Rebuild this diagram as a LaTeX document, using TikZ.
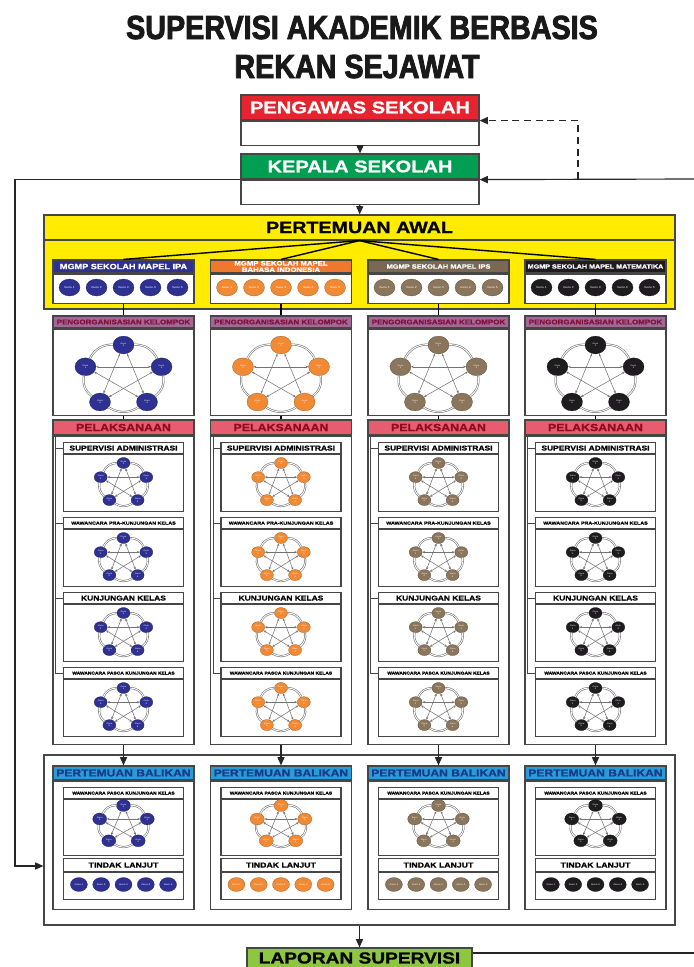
\documentclass[tikz,border=0pt]{standalone}
\usepackage{fontspec}
\setmainfont{Liberation Sans}[FakeStretch=1.2, BoldFeatures={FakeBold=1}]
\newfontfamily\titlefont{Liberation Sans}[FakeStretch=0.86, BoldFeatures={FakeBold=2.5}]
\usepackage{tikz}
\usetikzlibrary{calc,arrows.meta,shapes.geometric,positioning}

\definecolor{ipa}{RGB}{46,49,146}
\definecolor{bind}{RGB}{242,138,52}
\definecolor{bindh}{RGB}{240,120,45}
\definecolor{ips}{RGB}{139,118,92}
\definecolor{ipsh}{RGB}{122,104,84}
\definecolor{mat}{RGB}{30,28,30}
\definecolor{pengawas}{RGB}{228,36,46}
\definecolor{kepala}{RGB}{0,158,82}
\definecolor{kuning}{RGB}{255,236,0}
\definecolor{ungu}{RGB}{163,104,152}
\definecolor{unguteks}{RGB}{125,18,58}
\definecolor{merah}{RGB}{232,92,112}
\definecolor{merahteks}{RGB}{140,12,32}
\definecolor{biru}{RGB}{40,156,214}
\definecolor{biruteks}{RGB}{28,56,140}
\definecolor{laporan}{RGB}{141,198,63}
\definecolor{garis}{RGB}{70,70,70}

\newcommand{\px}{0.03cm}
\newcommand{\tebal}[1]{\bfseries\fontsize{#1}{#1}\selectfont}

\tikzset{
  kotak/.style={draw=garis, line width=1pt, inner sep=0pt, fill=white},
  judul/.style={kotak, align=center},
  guru/.style={ellipse, fill=#1, draw=#1!60!black, line width=0.2pt, inner sep=0pt,
    text=white, align=center, font=\fontsize{1.8}{2}\selectfont},
  ringline/.style={draw=gray!80!black, double=white, double distance=0.8pt, line width=0.45pt},
  starline/.style={draw=gray!90!black, line width=0.45pt,
    {Stealth[length=2.4pt,width=2pt]}-{Stealth[length=2.4pt,width=2pt]}},
  panah/.style={-{Triangle[length=7pt,width=6pt]}, line width=1pt, draw=black!85},
}

% lima guru dalam segi lima
\newcommand{\gurupenta}[6]{%
  \foreach \gi/\sudut in {1/198,2/270,3/342,4/54,5/126}
    \node[guru=#5, minimum width=#6*\px, minimum height=0.85*#6*\px] (#1\gi)
      at ($(#2)+(\sudut:#3 and #4)$) {Guru\\\gi};
  \foreach \dari/\ke in {1/2,2/3,3/4,4/5,5/1}
    \draw[ringline] (#1\dari) to[bend left=32] (#1\ke);
  \foreach \dari/\ke in {1/3,1/4,2/4,2/5,3/5}
    \draw[starline] (#1\dari) -- (#1\ke);
}

\begin{document}
\begin{tikzpicture}[x=0.03cm, y=-0.03cm]
\useasboundingbox (0,0) rectangle (694,967);

% judul
\node[anchor=base, font=\titlefont\bfseries\fontsize{28.5}{30}\selectfont, text=black!90] (judul1) at (362,39) {SUPERVISI AKADEMIK BERBASIS};
\node[anchor=base, font=\titlefont\bfseries\fontsize{28.5}{30}\selectfont, text=black!90] (judul2) at (357,78) {REKAN SEJAWAT};

% pengawas dan kepala sekolah
\node[judul, fill=pengawas, text=white, minimum width=238*\px, minimum height=25*\px, font=\tebal{14.3}] (pgh) at (360,107.5) {PENGAWAS SEKOLAH};
\node[kotak, minimum width=238*\px, minimum height=24*\px, below=0pt of pgh] (pgb) {};
\node[judul, fill=kepala, text=white, minimum width=238*\px, minimum height=25*\px, font=\tebal{14.3}] (kph) at (360,166.5) {KEPALA SEKOLAH};
\node[kotak, minimum width=238*\px, minimum height=24*\px, below=0pt of kph] (kpb) {};
\draw[panah] (pgb) -- (kph);

% pertemuan awal
\node[kotak, fill=kuning, minimum width=631*\px, minimum height=94*\px] (awal) at (359.5,262) {};
\node[judul, fill=kuning, minimum width=631*\px, minimum height=25*\px, anchor=north, font=\tebal{14}] (awh) at (awal.north) {PERTEMUAN AWAL};
\draw[panah] (kpb) -- (awh);

% kotak luar pertemuan balikan
\node[kotak, fill=none, minimum width=631*\px, minimum height=170*\px] (balikan) at (359.5,840) {};

\foreach \kol/\kx/\warna/\hwarna/\ukuran/\nama in {
  1/123.5/ipa/ipa/6.5/{MGMP SEKOLAH MAPEL IPA},
  2/281/bind/bindh/5.5/{MGMP SEKOLAH MAPEL\\BAHASA INDONESIA},
  3/438.5/ips/ipsh/5.3/{MGMP SEKOLAH MAPEL IPS},
  4/595.5/mat/mat/5.1/{MGMP SEKOLAH MAPEL MATEMATIKA}}{
  % mgmp
  \node[judul, fill=\hwarna, text=white, minimum width=141*\px, minimum height=13*\px, font=\tebal{\ukuran}] (mh\kol) at (\kx,266.5) {\nama};
  \node[kotak, minimum width=141*\px, minimum height=29*\px, below=0pt of mh\kol] (mb\kol) {};
  \foreach \gi in {1,...,5}
    \node[guru=\warna, minimum width=21*\px, minimum height=17*\px, font=\fontsize{2.4}{2.6}\selectfont] (mg\kol\gi) at ({\kx+(\gi-3)*27},287.5) {Guru \gi};
  \draw[line width=1.2pt] (awh.south) -- (mh\kol.north);
  % pengorganisasian kelompok
  \node[judul, fill=ungu, text=unguteks, minimum width=141*\px, minimum height=12*\px, font=\tebal{5.7}] (oh\kol) at (\kx,322) {PENGORGANISASIAN KELOMPOK};
  \node[kotak, minimum width=141*\px, minimum height=86*\px, below=0pt of oh\kol] (ob\kol) {};
  \draw[line width=1pt] (mb\kol) -- (oh\kol);
  \gurupenta{og\kol}{\kx,376.5}{40}{31.5}{\warna}{21}
  % pelaksanaan
  \node[judul, fill=merah, text=merahteks, minimum width=141*\px, minimum height=15*\px, font=\tebal{8.8}] (lh\kol) at (\kx,427.5) {PELAKSANAAN};
  \node[kotak, minimum width=141*\px, minimum height=308*\px, below=0pt of lh\kol] (lb\kol) {};
  \draw[line width=1pt] (ob\kol) -- (lh\kol);
  \foreach \bag/\by/\teks/\fsz in {1/442/{SUPERVISI ADMINISTRASI}/6, 2/517/{WAWANCARA PRA-KUNJUNGAN KELAS}/3.8,
      3/592/{KUNJUNGAN KELAS}/6, 4/667/{WAWANCARA PASCA KUNJUNGAN KELAS}/3.5}{
    \node[judul, minimum width=120*\px, minimum height=11*\px, anchor=north, font=\tebal{\fsz}] (sh\kol\bag) at (\kx,\by) {\teks};
    \node[kotak, minimum width=120*\px, minimum height=57*\px, below=0pt of sh\kol\bag] (sb\kol\bag) {};
    \gurupenta{sg\kol\bag}{\kx,\by+41.5}{24}{20.5}{\warna}{13}
    \draw[draw=garis, line width=0.6pt] ($(lh\kol.south west)+(3,0)$) |- (sh\kol\bag.west);
  }
  % pertemuan balikan
  \node[judul, fill=biru, text=biruteks, minimum width=141*\px, minimum height=14*\px, font=\tebal{8.6}] (bh\kol) at (\kx,773) {PERTEMUAN BALIKAN};
  \node[kotak, minimum width=141*\px, minimum height=128*\px, below=0pt of bh\kol] (bb\kol) {};
  \draw[panah] (lb\kol) -- (bh\kol);
  \node[judul, minimum width=120*\px, minimum height=11*\px, anchor=north, font=\tebal{3.5}] (wh\kol) at (\kx,787) {WAWANCARA PASCA KUNJUNGAN KELAS};
  \node[kotak, minimum width=120*\px, minimum height=56*\px, below=0pt of wh\kol] (wb\kol) {};
  \gurupenta{wg\kol}{\kx,825}{25}{19.5}{\warna}{14}
  \node[judul, minimum width=120*\px, minimum height=13*\px, anchor=north, font=\tebal{6.2}] (th\kol) at (\kx,858) {TINDAK LANJUT};
  \node[kotak, minimum width=120*\px, minimum height=27*\px, below=0pt of th\kol] (tb\kol) {};
  \foreach \gi in {1,...,5}
    \node[guru=\warna, minimum width=17*\px, minimum height=14*\px, font=\fontsize{2}{2.2}\selectfont] (tg\kol\gi) at ({\kx+(\gi-3)*22.3},884.5) {Guru \gi};
}

% laporan
\node[judul, fill=laporan, minimum width=225*\px, minimum height=20*\px, font=\tebal{13.6}] (laporan) at (359.5,958) {LAPORAN SUPERVISI};
\draw[panah] (balikan) -- (laporan);

% garis balik
\coordinate (kanan) at (694,179);
\coordinate (kiri) at (15,866);
\coordinate (putus) at (578,179);
\coordinate (ujung) at (694,953);
\draw[panah] (kanan) -- (kpb.north east);
\draw[panah, dash pattern=on 6pt off 4pt] (putus) |- (pgb.north east);
\draw[panah] (kpb.north west) -| (kiri) -- (kiri -| balikan.west);
\draw[line width=1pt, draw=black!85] (laporan.east |- ujung) -- (ujung);
\end{tikzpicture}
\end{document}
